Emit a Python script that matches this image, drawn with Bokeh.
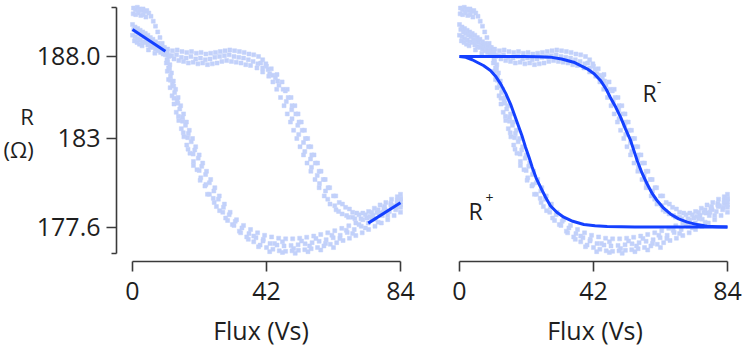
from bokeh.plotting import figure
from bokeh.models import Range1d, FixedTicker, Label, ColumnDataSource
from bokeh.layouts import row
from bokeh.embed import file_html
from bokeh.resources import INLINE

# ---------------- data (flux in Vs, resistance in ohm) ----------------
flux_ticks = [0, 42, 84]
ohm_ticks = [177.6, 183, 188]
ohm_tick_labels = {177.6: "177.6", 183: "183", 188: "188.0"}

trace_1 = [(0.3,190.95),(0.9,190.85),(1.5,191.0),(2.1,190.9),(2.7,190.8),(3.3,190.9),(3.9,190.75),(4.5,190.8),
           (5.1,190.65),(5.8,190.45),(6.5,190.15),(7.2,189.85),(7.9,189.5),(8.6,189.15),(9.3,188.8),(10.0,188.55),
           (11.0,188.45),(12.5,188.35),(14.0,188.4),(15.5,188.3),(17.0,188.25),(18.5,188.3),(20.0,188.2),(21.5,188.25),
           (23.0,188.15),(24.5,188.2),(26.0,188.25),(27.5,188.3),(29.0,188.35),(30.5,188.4),(32.0,188.35),(33.5,188.3),
           (35.0,188.25),(36.5,188.15),(38.0,188.1),(39.5,188.0),(40.8,187.8),(41.8,187.55),(43.5,187.25),(45.3,186.9),
           (46.9,186.45),(48.5,186.0),(49.7,185.5),(50.9,185.0),(51.9,184.5),(52.9,184.0),(53.9,183.5),(54.9,183.0),
           (55.9,182.5),(56.9,182.0),(58.0,181.5),(59.1,181.0),(60.4,180.5),(61.8,180.0),(63.7,179.5),(65.8,179.0),
           (68.0,178.7),(70.3,178.45),(72.2,178.45),(74.0,178.55),(75.8,178.75),(77.6,178.95),(79.4,179.1),(81.2,179.3),
           (83.0,179.45),(84.0,179.6)]

trace_2 = [(0.0,189.95),(0.8,189.8),(1.6,189.7),(2.4,189.6),(3.2,189.5),(4.0,189.4),(4.8,189.3),(5.6,189.15),
           (6.4,189.05),(7.2,188.9),(8.0,188.8),(8.8,188.7),(9.6,188.55),(10.4,188.4),
           (11.5,188.05),(13.0,187.85),(14.5,187.75),(16.0,187.7),(17.5,187.6),(19.0,187.65),(20.5,187.55),(22.0,187.6),
           (23.5,187.5),(25.0,187.55),(26.5,187.6),(28.0,187.7),(29.5,187.75),(31.0,187.7),(32.5,187.65),(34.0,187.6),
           (35.5,187.5),(37.0,187.45),
           (39.0,187.3),(40.8,187.05),(42.7,186.8),(44.0,186.45),(45.2,186.0),(46.4,185.5),(47.5,185.0),(48.5,184.5),
           (49.5,184.0),(50.5,183.5),(51.5,183.0),(52.5,182.5),(53.6,182.0),(54.7,181.5),(55.9,181.0),(57.2,180.5),
           (58.5,180.0),(60.1,179.5),(61.9,179.0),(63.8,178.65),(65.7,178.4),(67.7,178.2),(69.7,178.1),(71.6,178.1),
           (73.5,178.15),(75.4,178.3),(77.3,178.45),(79.2,178.65),(81.1,178.85),(83.0,179.05),(84.0,179.15)]

trace_3 = [(0.0,189.3),(0.8,189.2),(1.6,189.1),(2.4,189.0),(3.2,188.9),(4.0,188.85),(4.8,188.7),(5.6,188.6),
           (6.4,188.55),(7.2,188.45),(8.0,188.35),(8.8,188.25),(9.6,188.15),
           (10.8,188.15),(12.3,188.05),(13.8,188.1),(15.3,187.95),(16.8,187.9),(18.3,188.0),(19.8,187.85),(21.3,187.9),
           (22.8,187.8),(24.3,187.85),(25.8,187.95),(27.3,188.0),(28.8,188.05),(30.3,188.1),(31.8,188.0),(33.3,187.95),
           (34.8,187.9),(36.3,187.8),(37.8,187.7),(39.3,187.55),(40.8,187.3),
           (42.5,187.2),(44.0,186.85),(45.5,186.5),(47.2,186.0),(48.8,185.5),(50.0,185.0),(51.2,184.5),(52.2,184.0),
           (53.2,183.5),(54.2,183.0),(55.2,182.5),(56.2,182.0),(57.3,181.5),(58.5,181.0),(59.8,180.5),(61.3,180.0),
           (63.0,179.5),(64.8,179.1),(66.8,178.8),(69.0,178.5),(71.0,178.35),(73.0,178.35),(75.0,178.5),(77.0,178.65),
           (79.0,178.85),(81.0,179.05),(83.0,179.25),(84.0,179.35)]

trace_4 = [(10.3,188.1),(10.6,187.6),(10.9,187.1),(11.3,186.6),(11.8,186.1),(12.4,185.6),(13.0,185.1),(13.7,184.6),
           (14.5,184.1),(15.3,183.6),(16.1,183.1),(17.0,182.6),(18.0,182.1),(19.1,181.6),(20.2,181.1),(21.4,180.6),
           (22.7,180.1),(24.1,179.6),(25.6,179.1),(27.3,178.6),(29.2,178.15),(31.3,177.75),(33.5,177.35),(35.8,177.0),
           (38.0,176.7),(40.0,176.5),(42.0,176.35),(44.0,176.25),(46.0,176.15),(48.0,176.12),(50.0,176.15),(52.0,176.18),
           (54.0,176.22),(56.0,176.28),(58.0,176.35),(60.0,176.45),(62.0,176.55),(64.0,176.65),(66.0,176.78),(68.0,176.92),
           (70.0,177.08),(72.0,177.25),(74.0,177.45),(76.0,177.65),(78.0,177.85),(80.0,178.05),(82.0,178.3),(84.0,178.5)]

trace_5 = [(11.3,188.0),(11.7,187.5),(12.2,187.0),(12.8,186.5),(13.5,186.0),(14.3,185.5),(15.1,185.0),(16.0,184.5),
           (16.9,184.0),(17.8,183.5),(18.8,183.0),(19.8,182.5),(20.9,182.0),(22.0,181.5),(23.2,181.0),(24.5,180.5),
           (25.8,180.0),(27.2,179.5),(28.8,179.0),(30.6,178.5),(32.6,178.05),(34.8,177.7),(37.0,177.45),(39.2,177.25),
           (41.4,177.1),(43.6,177.0),(45.8,176.92),(48.0,176.88),(50.2,176.88),(52.4,176.92),(54.6,176.98),(56.8,177.05),
           (59.0,177.15),(61.2,177.25),(63.4,177.38),(65.6,177.52),(67.8,177.68),(70.0,177.85),(72.2,178.05),(74.4,178.25),
           (76.6,178.48),(78.8,178.72),(81.0,178.95),(83.0,179.15),(84.0,179.3)]

trace_6 = [(10.8,187.8),(11.3,187.3),(11.9,186.8),(12.5,186.3),(13.2,185.8),(14.0,185.3),(14.8,184.8),(15.7,184.3),
           (16.6,183.8),(17.5,183.3),(18.4,182.8),(19.5,182.3),(20.6,181.8),(21.7,181.3),(22.9,180.8),(24.1,180.3),
           (25.5,179.8),(26.9,179.3),(28.5,178.8),(30.3,178.35),(32.2,177.95),(34.3,177.55),(36.5,177.2),(38.7,176.95),
           (40.9,176.75),(43.1,176.6),(45.3,176.5),(47.5,176.45),(49.7,176.48),(51.9,176.52),(54.1,176.58),(56.3,176.65),
           (58.5,176.73),(60.7,176.83),(62.9,176.95),(65.1,177.1),(67.3,177.27),(69.5,177.45),(71.7,177.65),(73.9,177.85),
           (76.1,178.08),(78.3,178.3),(80.5,178.55),(82.7,178.8),(84.0,178.95)]

trace_7 = [(0.2,190.6),(1.0,190.55),(1.8,190.65),(2.6,190.5),(3.4,190.55),(4.2,190.4),
           (0.4,189.65),(1.2,189.5),(2.0,189.4),(2.8,189.3),(3.6,189.2),(4.4,189.05),(5.2,188.95),(6.0,188.85),
           (6.8,188.7),(7.6,188.6),(8.4,188.45),(9.2,188.35),(10.0,188.2),
           (0.6,188.95),(1.4,188.85),(2.2,188.75),(3.0,188.65),(5.0,188.4),(7.0,188.2)]

trace_8 = [(40.2,187.6),(42.0,187.4),(43.0,186.95),(44.8,186.7),(45.9,186.25),(47.9,185.9),(48.2,185.25),(49.9,184.75),
           (50.0,184.2),(51.8,183.8),(52.1,183.25),(53.6,182.75),(54.0,182.2),(55.8,181.75),(56.1,181.25),(57.9,180.75),
           (58.6,180.25),(60.5,179.8),(61.2,179.3),(63.4,178.9),(64.6,178.55),(67.1,178.3),(69.0,178.2)]

trace_9 = [(10.9,188.3),(11.0,187.7),(11.6,187.25),(11.9,186.55),(12.9,186.2),(13.0,185.45),(14.2,185.15),(14.4,184.35),
           (15.7,184.05),(15.9,183.35),(17.3,183.05),(17.4,182.35),(19.0,182.05),(19.1,181.35),(20.9,181.05),(21.2,180.45),
           (23.0,180.2),(23.5,179.6),(25.3,179.35),(26.3,178.85),(28.3,178.5),(29.8,178.0),(31.8,177.7),(33.9,177.25),
           (36.3,176.85),(39.5,176.4),(43.0,176.1),(47.0,176.05),(51.0,176.0),(55.0,176.1),(59.0,176.2),(63.0,176.35)]

trace_10 = [(38.0,177.05),(41.0,176.85),(44.5,176.6),(47.0,176.7),(50.5,176.3),(53.0,176.75),(55.5,176.45),(57.5,176.9),
            (60.5,176.6),(62.5,177.1),(65.0,176.9),(67.0,177.4),(69.0,177.2),(71.0,177.75),(73.0,177.55),(75.0,178.1),
            (77.0,177.9),(78.5,178.5),(80.0,178.3),(81.5,178.9),(82.5,178.65),(83.5,179.2),(84.0,178.8)]

# linear fits (left panel)
fit_start_flux = [0.0, 10.3]
fit_start_ohm = [189.65, 188.32]
fit_end_flux = [73.9, 84.0]
fit_end_ohm = [177.84, 179.08]

# sigmoid fits (right panel)
r_minus_flux = [0, 10, 20, 25, 28.5, 32, 35.8, 40, 42.2, 44.2, 46, 47.3, 49, 50.5, 52, 53.6, 55.7, 57.2, 58.8,
                60.4, 62, 64, 66.1, 68.7, 71.4, 74.5, 77.6, 80.8, 84]
r_minus_ohm = [188.0, 188.0, 188.0, 187.99, 187.96, 187.85, 187.65, 187.25, 186.95, 186.54, 186.0, 185.5, 184.9,
               184.3, 183.6, 182.9, 181.66, 180.9, 180.24, 179.65, 179.2, 178.75, 178.4, 178.1, 177.9, 177.75,
               177.65, 177.62, 177.6]
r_plus_flux = [0, 2, 4, 5.5, 7.5, 9.7, 11.3, 12.9, 14.5, 16, 17.3, 18.6, 19.7, 20.7, 21.8, 22.8, 24, 25.4, 26.9,
               28.5, 30.5, 32.7, 35.5, 39, 42.5, 46.3, 55, 65, 75, 84]
r_plus_ohm = [188.0, 187.95, 187.8, 187.65, 187.45, 187.15, 186.8, 186.33, 185.75, 185.1, 184.4, 183.7, 183.1,
              182.47, 181.85, 181.25, 180.6, 180.03, 179.45, 178.9, 178.5, 178.2, 177.95, 177.76, 177.68, 177.63,
              177.6, 177.6, 177.6, 177.6]

# ---------------- styling ----------------
FONT = "Open Sans"
TEXT = "#1e1e1e"
AXIS = "#3a3a3a"
DOT = "#c2d1fa"
LINE = "#1440ff"

all_pts = (trace_1 + trace_2 + trace_3 + trace_4 + trace_5 + trace_6 + trace_7
           + trace_8 + trace_9 + trace_10)
scatter_src = dict(flux=[p[0] for p in all_pts], ohm=[p[1] for p in all_pts])

y_range = Range1d(175.5, 191.23)


def style_x(p):
    ax = p.xaxis[0]
    ax.bounds = (0, 84)
    ax.ticker = FixedTicker(ticks=flux_ticks, minor_ticks=[])
    ax.major_tick_out = 10
    ax.major_tick_in = 0
    ax.minor_tick_out = 0
    ax.axis_line_color = AXIS
    ax.axis_line_width = 1.6
    ax.major_tick_line_color = AXIS
    ax.major_tick_line_width = 1.6
    ax.major_label_text_font = FONT
    ax.major_label_text_font_size = "25px"
    ax.major_label_text_color = TEXT
    ax.major_label_standoff = 10
    ax.axis_label = "Flux (Vs)"
    ax.axis_label_text_font = FONT
    ax.axis_label_text_font_size = "25px"
    ax.axis_label_text_font_style = "normal"
    ax.axis_label_text_color = TEXT
    ax.axis_label_standoff = 10


def base_fig(width, x_range, left, right, with_y):
    p = figure(width=width, height=354, x_range=x_range, y_range=y_range,
               output_backend="svg", toolbar_location=None,
               y_axis_location="left" if with_y else None,
               min_border_left=left, min_border_right=right,
               min_border_top=3, min_border_bottom=93)
    p.grid.visible = False
    p.outline_line_color = None
    p.background_fill_color = "white"
    p.border_fill_color = "white"
    style_x(p)
    src = ColumnDataSource(scatter_src)
    p.scatter("flux", "ohm", source=src, marker="square", size=4,
              fill_color=DOT, line_color=DOT, line_width=0.5)
    return p


p1 = base_fig(420, Range1d(-5.02, 85.57), 116, 15, True)
ay = p1.yaxis[0]
ay.bounds = (176.0, 191.0)
ay.ticker = FixedTicker(ticks=ohm_ticks, minor_ticks=[176.0, 191.0])
ay.major_label_overrides = ohm_tick_labels
ay.major_tick_out = 10
ay.major_tick_in = 0
ay.minor_tick_out = 5
ay.minor_tick_in = 0
ay.axis_line_color = AXIS
ay.axis_line_width = 1.6
ay.major_tick_line_color = AXIS
ay.major_tick_line_width = 1.6
ay.minor_tick_line_color = AXIS
ay.minor_tick_line_width = 1.6
ay.major_label_text_font = FONT
ay.major_label_text_font_size = "25px"
ay.major_label_text_color = TEXT
ay.major_label_standoff = 6
ay.axis_label = "R\n(Ω)"
ay.axis_label_orientation = "horizontal"
ay.axis_label_text_font = FONT
ay.axis_label_text_font_size = "22px"
ay.axis_label_text_font_style = "normal"
ay.axis_label_text_color = TEXT
ay.axis_label_text_align = "center"
ay.axis_label_standoff = 0
ay.axis_label_text_line_height = 1.1

p1.line(fit_start_flux, fit_start_ohm, line_color=LINE, line_width=3)
p1.line(fit_end_flux, fit_end_ohm, line_color=LINE, line_width=3)

p2 = base_fig(322, Range1d(-2.19, 87.15), 32, 5, False)
p2.line(r_minus_flux, r_minus_ohm, line_color=LINE, line_width=3, line_join="round")
p2.line(r_plus_flux, r_plus_ohm, line_color=LINE, line_width=3, line_join="round")

for x, y, t, fs in [(57.4, 185.75, "R", "23px"), (2.8, 178.6, "R", "23px"),
                    (61.8, 186.43, "-", "14px"), (8.15, 179.4, "+", "14px")]:
    p2.add_layout(Label(x=x, y=y, text=t, text_font=FONT, text_font_size=fs,
                        text_color=TEXT, text_baseline="alphabetic", text_align="left"))

layout = row(p1, p2)
open("out.html", "w").write(file_html(layout, INLINE))
